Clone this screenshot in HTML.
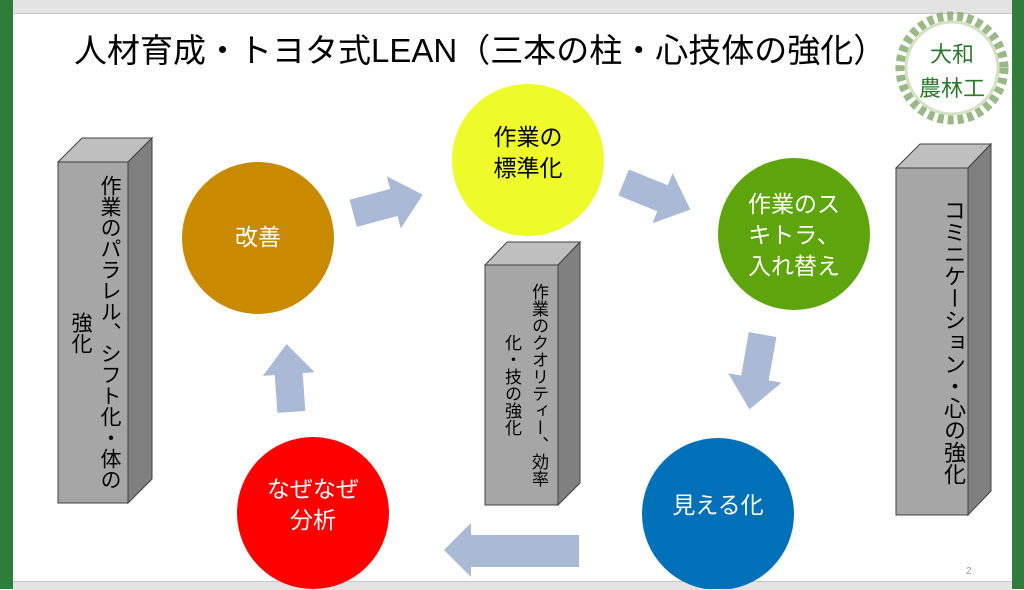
<!DOCTYPE html>
<html><head><meta charset="utf-8">
<style>
html,body{margin:0;padding:0;}
body{width:1024px;height:589px;position:relative;overflow:hidden;background:#fff;font-family:"Liberation Sans","Noto Sans CJK JP",sans-serif;}
.abs{position:absolute;}
.vt{position:absolute;writing-mode:vertical-rl;color:#000;text-align:center;white-space:nowrap;}
.ct{position:absolute;text-align:center;font-size:23px;line-height:31px;}
</style></head><body>
<div class="abs" style="left:0;top:0;width:1024px;height:13px;background:#e3e3e3;border-bottom:1px solid #c8c8c8"></div>
<div class="abs" style="left:0;top:0;width:13px;height:589px;background:#2e7d3a"></div>
<div class="abs" style="left:1012px;top:0;width:12px;height:589px;background:#2e7d3a"></div>
<div class="abs" style="left:13px;top:581px;width:999px;height:8px;background:#e3e3e3;border-top:1px solid #c8c8c8"></div>

<svg class="abs" style="left:0;top:0" width="1024" height="589">
  <g stroke="#404040" stroke-width="1">
    <polygon points="58,162 82,138 152,138 128,162" fill="#bfbfbf"/>
    <polygon points="128,162 152,138 152,479 128,503" fill="#808080"/>
    <rect x="58" y="162" width="70" height="341" fill="#a6a6a6"/>

    <polygon points="485,265 507,242 580,242 558,265" fill="#bfbfbf"/>
    <polygon points="558,265 580,242 580,483 558,505" fill="#808080"/>
    <rect x="485" y="265" width="73" height="240" fill="#a6a6a6"/>

    <polygon points="896,168 920,144 991,144 968,168" fill="#bfbfbf"/>
    <polygon points="968,168 991,144 991,491 968,515" fill="#808080"/>
    <rect x="896" y="168" width="72" height="347" fill="#a6a6a6"/>
  </g>
  <circle cx="258" cy="238" r="76" fill="#c98a00"/>
  <circle cx="528" cy="160" r="76" fill="#eefa29"/>
  <circle cx="794" cy="234" r="76" fill="#5ea40c"/>
  <circle cx="718" cy="514" r="76" fill="#0070b8"/>
  <circle cx="313" cy="513" r="76" fill="#ff0000"/>
  <g fill="#a9b9d6">
    <polygon transform="translate(388,204) rotate(-15)" points="-36,-14 6,-14 6,-27 36,0 6,27 6,14 -36,14"/>
    <polygon transform="translate(657,196) rotate(22)" points="-36,-14 6,-14 6,-27 36,0 6,27 6,14 -36,14"/>
    <polygon transform="translate(756,372) rotate(100)" points="-38,-14 6,-14 6,-27 38,0 6,27 6,14 -38,14"/>
    <polygon transform="translate(289,378) rotate(-94)" points="-34,-14 4,-14 4,-26 34,0 4,26 4,14 -34,14"/>
    <polygon points="444,550 471,523 471,535 579,535 579,567 471,567 471,577"/>
  </g>
  <circle cx="952" cy="68" r="52" fill="none" stroke="#7fa86a" stroke-width="9" stroke-dasharray="6 4" opacity="0.8"/>
  <circle cx="952" cy="68" r="46" fill="none" stroke="#c9d9b0" stroke-width="3" opacity="0.8"/>
  <text x="952" y="62" font-size="22" fill="#2b7a2b" text-anchor="middle" font-family="Noto Sans CJK JP,sans-serif">大和</text>
  <text x="952" y="96" font-size="22" fill="#2b7a2b" text-anchor="middle" font-family="Noto Sans CJK JP,sans-serif">農林工</text>
  <text x="966" y="574" font-size="10" fill="#999">2</text>
</svg>

<div class="abs" style="left:74px;top:30px;font-size:33px;line-height:42px;white-space:nowrap;color:#000;">人材育成・トヨタ式LEAN（三本の柱・心技体の強化）</div>

<div class="ct" style="left:182px;top:222px;width:152px;color:#fff">改善</div>
<div class="ct" style="left:452px;top:122px;width:152px;color:#000">作業の<br>標準化</div>
<div class="ct" style="left:718px;top:189px;width:152px;color:#fff">作業のス<br>キトラ、<br>入れ替え</div>
<div class="ct" style="left:642px;top:490px;width:152px;color:#fff">見える化</div>
<div class="ct" style="left:237px;top:474px;width:152px;color:#fff">なぜなぜ<br>分析</div>

<div class="vt" style="left:60px;top:162px;height:341px;width:64px;font-size:21px;line-height:29px">作業のパラレル、シフト化・体の<br>強化</div>
<div class="vt" style="left:490px;top:265px;height:240px;width:62px;font-size:17px;line-height:27px">作業のクオリティー、効率<br>化・技の強化</div>
<div class="vt" style="left:896px;top:168px;height:347px;width:72px;font-size:22px;line-height:30px">コミニケーション・心の強化</div>
</body></html>
